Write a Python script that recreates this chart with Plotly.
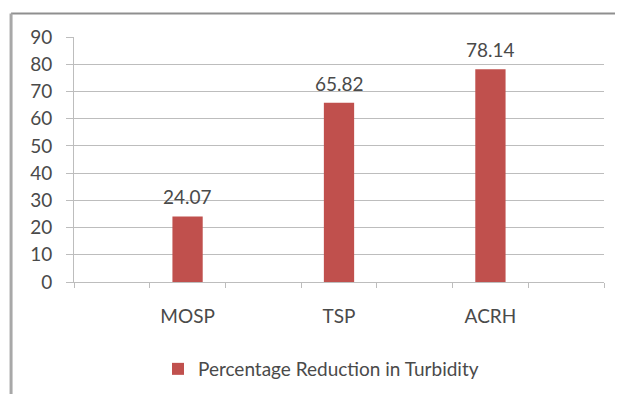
import numpy as np
import plotly.graph_objects as go

categories = ["MOSP", "TSP", "ACRH"]
values = [24.07, 65.82, 78.14]
series_name = "Percentage Reduction in Turbidity"
y_ticks = list(range(0, 91, 10))

# the page body has an 8px margin, so the figure is drawn 8px in and down
OFF = 8
W, H = 623 - OFF, 394 - OFF
L, R, T, B = 73.5 - OFF, 19, 37 - OFF, 111.5
plot_w = W - L - R
plot_h = H - T - B

FONT = "Lato, 'Open Sans', sans-serif"
FS = 19
TXT = "#4a4a4a"
BAR = "#C0504D"
GRID = "#BDBDBD"

idx = list(range(len(categories)))

fig = go.Figure()
fig.add_trace(go.Bar(
    x=idx, y=values, name=series_name,
    marker=dict(color=BAR, line=dict(width=0)),
    showlegend=True,
))

for i, v in zip(idx, values):
    fig.add_annotation(
        x=i, y=v, text=f"{v:.2f}", showarrow=False,
        yanchor="bottom", yshift=6,
        font=dict(family=FONT, size=FS, color=TXT),
    )

def px_x(p):
    # p in reference (viewport) pixels
    return (p - OFF - L) / plot_w

def px_y(p):
    return (H - B - (p - OFF)) / plot_h

shapes = [
    dict(type="line", xref="paper", yref="paper",
         x0=px_x(10.5), x1=px_x(640), y0=px_y(13.5), y1=px_y(13.5),
         line=dict(color="#8f8f8f", width=2)),
    dict(type="line", xref="paper", yref="paper",
         x0=px_x(10.5), x1=px_x(10.5), y0=px_y(13.5), y1=px_y(420),
         line=dict(color="#a8a8a8", width=3)),
    dict(type="line", xref="paper", yref="paper",
         x0=px_x(617), x1=px_x(617), y0=px_y(20), y1=px_y(420),
         line=dict(color="#e6e6e6", width=1)),
]

fig.update_layout(
    width=W, height=H,
    margin=dict(l=L, r=R, t=T, b=B),
    paper_bgcolor="white", plot_bgcolor="white",
    bargap=0.8,
    shapes=shapes,
    font=dict(family=FONT, size=FS, color=TXT),
    legend=dict(
        orientation="h",
        xref="container", yref="container",
        x=(158 - OFF) / W, y=1 - (369 - OFF) / H,
        xanchor="left", yanchor="middle",
        font=dict(family=FONT, size=FS, color=TXT),
        bgcolor="rgba(0,0,0,0)",
    ),
    xaxis=dict(
        range=[-0.75, len(categories) - 0.25],
        tickmode="array", tickvals=idx, ticktext=categories,
        ticks="", showgrid=False, zeroline=False,
        showline=True, linecolor=GRID, linewidth=1,
        tickfont=dict(family=FONT, size=FS, color=TXT),
        ticklabelstandoff=17,
        minor=dict(tickmode="array",
                   tickvals=list(np.arange(-0.75, len(categories) - 0.2, 0.5)),
                   ticks="outside", ticklen=5, tickcolor=GRID, showgrid=False),
        fixedrange=True,
    ),
    yaxis=dict(
        range=[0, 90], tickmode="array", tickvals=y_ticks,
        showgrid=True, gridcolor=GRID, gridwidth=1,
        zeroline=False,
        showline=True, linecolor=GRID, linewidth=1,
        ticks="outside", ticklen=7, tickcolor=GRID,
        tickfont=dict(family=FONT, size=FS, color=TXT),
        ticklabelstandoff=10,
        fixedrange=True,
    ),
)

fig.write_html("out.html")
